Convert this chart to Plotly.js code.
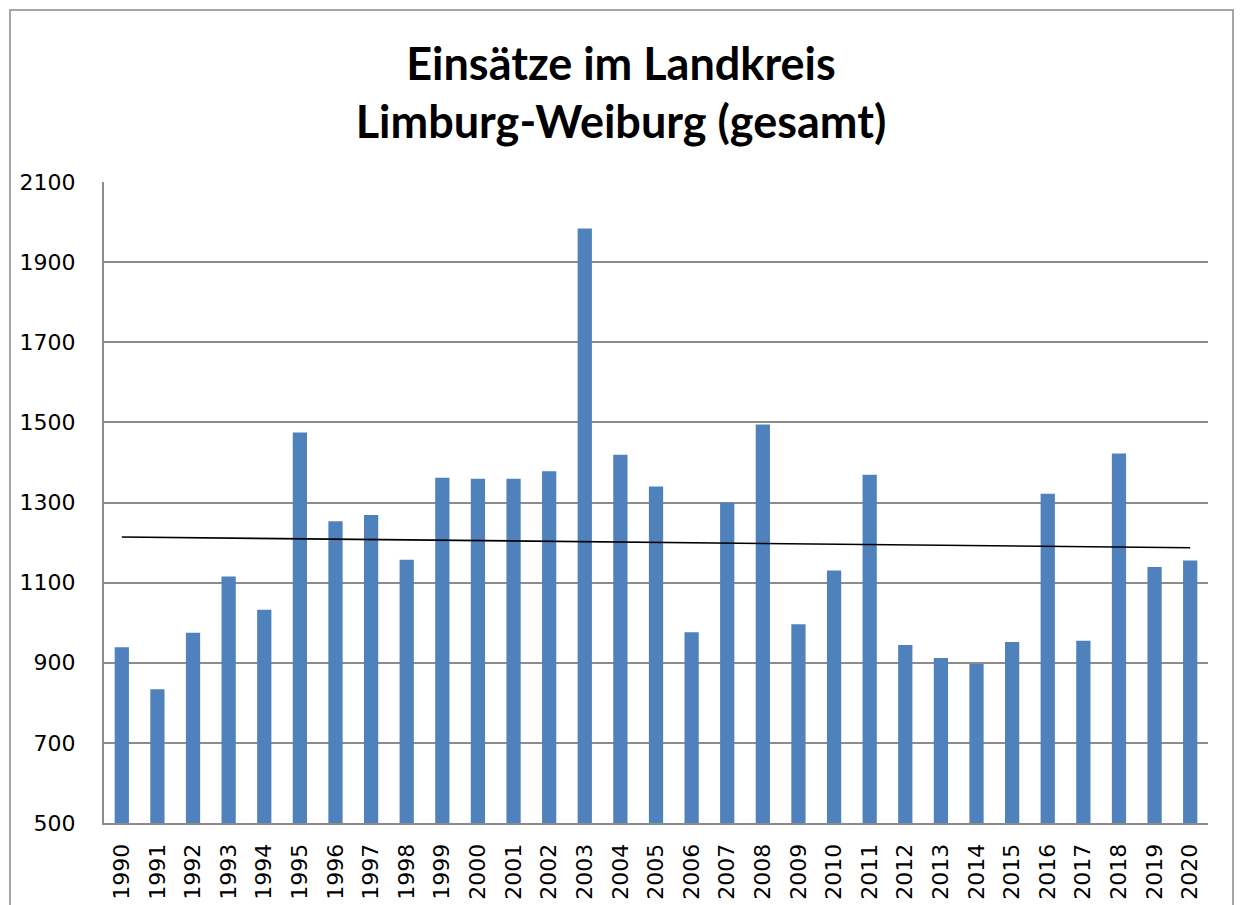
<!DOCTYPE html>
<html>
<head>
<meta charset="utf-8">
<script src="https://cdn.plot.ly/plotly-3.0.1.min.js"></script>
<style>
  html, body { margin: 0; padding: 0; background: #fff; }
  #frame { position: absolute; left: 9px; top: 9px; width: 1225px; height: 910px; border: 2px solid #a6a6a6; box-sizing: border-box; }
  #chart { position: absolute; left: 0; top: 0; width: 1242px; height: 905px; }
</style>
</head>
<body>
<div id="frame"></div>
<div id="chart"></div>
<script>
const years = ["1990","1991","1992","1993","1994","1995","1996","1997","1998","1999",
               "2000","2001","2002","2003","2004","2005","2006","2007","2008","2009",
               "2010","2011","2012","2013","2014","2015","2016","2017","2018","2019","2020"];
const einsaetze = [939, 834, 975, 1115, 1032, 1475, 1253, 1269, 1157, 1362,
                   1359, 1359, 1378, 1984, 1419, 1340, 976, 1300, 1495, 996,
                   1130, 1369, 944, 912, 897, 952, 1322, 955, 1422, 1139, 1155];
const yTicks = [500, 700, 900, 1100, 1300, 1500, 1700, 1900, 2100];
const titleText = "Einsätze im Landkreis<br>Limburg-Weiburg (gesamt)";

// linear trend line (least squares) computed from the data
const n = einsaetze.length;
const idx = einsaetze.map((_, i) => i);
const mx = idx.reduce((a, b) => a + b, 0) / n;
const my = einsaetze.reduce((a, b) => a + b, 0) / n;
let sxy = 0, sxx = 0;
for (let i = 0; i < n; i++) { sxy += (i - mx) * (einsaetze[i] - my); sxx += (i - mx) * (i - mx); }
const slope = sxy / sxx;
const trend = idx.map(i => my + slope * (i - mx));

const data = [
  { type: "bar", x: years, y: einsaetze, marker: { color: "#4F81BD" }, hoverinfo: "x+y", showlegend: false },
  { type: "scatter", mode: "lines", x: years, y: trend, line: { color: "#000000", width: 1.6 }, hoverinfo: "skip", showlegend: false }
];

const layout = {
  width: 1242, height: 905,
  margin: { l: 104, r: 34, t: 182, b: 82 },
  paper_bgcolor: "rgba(0,0,0,0)",
  plot_bgcolor: "#ffffff",
  bargap: 0.6,
  title: {
    text: titleText,
    font: { family: "Lato, 'Open Sans', sans-serif", size: 45, color: "#000000", weight: "bold" },
    x: 0.5, xanchor: "center",
    y: 0.912, yanchor: "middle", yref: "container"
  },
  xaxis: {
    type: "category",
    tickangle: -90,
    tickfont: { family: "'DejaVu Sans', Verdana, sans-serif", size: 22, color: "#000000" },
    showgrid: false,
    showline: true, linecolor: "#8c8c8c", linewidth: 2,
    ticks: "",
    ticklabelstandoff: 10,
    fixedrange: true
  },
  yaxis: {
    range: [500, 2100],
    tickvals: yTicks,
    ticktext: yTicks.map(String),
    tickfont: { family: "'DejaVu Sans', Verdana, sans-serif", size: 22, color: "#000000" },
    showgrid: true, gridcolor: "#8c8c8c", gridwidth: 2,
    showline: true, linecolor: "#8c8c8c", linewidth: 2,
    zeroline: false,
    ticks: "",
    ticklabelstandoff: 22,
    fixedrange: true
  }
};

Plotly.newPlot("chart", data, layout, { displayModeBar: false, staticPlot: true });
</script>
</body>
</html>
